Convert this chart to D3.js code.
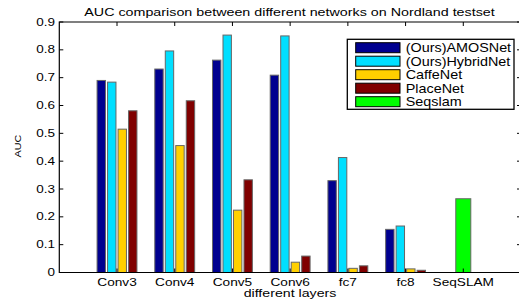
<!DOCTYPE html>
<html><head><meta charset="utf-8">
<script src="https://cdn.jsdelivr.net/npm/d3@7"></script>
<style>body{margin:0;background:#fff;} svg{display:block;} text{font-family:"Liberation Sans",Arial,sans-serif;fill:#000;}</style>
</head><body><svg id="c" width="519" height="303"></svg>
<script>
const categories = ["Conv3","Conv4","Conv5","Conv6","fc7","fc8","SeqSLAM"];
const seriesNames = ["(Ours)AMOSNet","(Ours)HybridNet","CaffeNet","PlaceNet","Seqslam"];
const amosnet   = [0.690,0.731,0.763,0.709,0.330,0.155];
const hybridnet = [0.684,0.796,0.853,0.850,0.413,0.167];
const caffenet  = [0.515,0.456,0.224,0.037,0.015,0.013];
const placenet  = [0.581,0.617,0.333,0.059,0.024,0.008];
const seqslam   = [0.265];
const yTicks = [0,0.1,0.2,0.3,0.4,0.5,0.6,0.7,0.8,0.9];
const colors = ["#00008f","#00dfff","#ffd000","#800000","#00ff00"];

const svg = d3.select("#c");
const L=59.3, R=521, T=22, B=272.5;
const x = d3.scaleLinear().domain([0,8]).range([L,R]);
const y = d3.scaleLinear().domain([0,0.9]).range([B,T]);

function stext(px, py, str, size, sx, anchor, rot){
  const g = svg.append("g").attr("transform",`translate(${px},${py})${rot?` rotate(${rot})`:""} scale(${sx},1)`);
  g.append("text").attr("font-size",size).attr("text-anchor",anchor||"start").text(str);
  return g;
}

const groups = [amosnet,hybridnet,caffenet,placenet];
const gw = 4/5.5; const step = gw/4; const bw = step*0.8;
groups.forEach((s,si)=>{
  svg.append("g").selectAll("rect").data(s).join("rect")
    .attr("x",(d,i)=>x(i+1+(si-1.5)*step-bw/2))
    .attr("width",x(bw)-x(0))
    .attr("y",d=>y(d)).attr("height",d=>y(0)-y(d))
    .attr("fill",colors[si]).attr("stroke","#666").attr("stroke-width",1);
});
const sw = 0.26;
svg.append("g").selectAll("rect").data(seqslam).join("rect")
  .attr("x",x(7-sw/2)).attr("width",x(sw)-x(0))
  .attr("y",d=>y(d)).attr("height",d=>y(0)-y(d))
  .attr("fill",colors[4]).attr("stroke","#666").attr("stroke-width",1);

// axes box
const ax = svg.append("g").attr("stroke","#000").attr("fill","none");
ax.append("path").attr("d",`M${L},${T}H${R}V${B}H${L}Z`).attr("stroke-width",1.2);
yTicks.forEach(t=>{
  ax.append("line").attr("x1",L).attr("x2",L+4).attr("y1",y(t)).attr("y2",y(t));
  ax.append("line").attr("x1",R).attr("x2",R-4).attr("y1",y(t)).attr("y2",y(t));
});
categories.forEach((c,i)=>{
  ax.append("line").attr("x1",x(i+1)).attr("x2",x(i+1)).attr("y1",T).attr("y2",T+4);
  ax.append("line").attr("x1",x(i+1)).attr("x2",x(i+1)).attr("y1",B).attr("y2",B-4);
});
const fmt = d=>d===0?"0":d3.format(".1f")(d);
yTicks.forEach(t=>stext(55, y(t)+3.6, fmt(t), 10, 1.35, "end"));
categories.forEach((c,i)=>stext(x(i+1), B+13, c, 10.5, 1.3, "middle"));

stext(289.5, 15.5, "AUC comparison between different networks on Nordland testset", 11, 1.3, "middle");
stext(290, 297, "different layers", 10.5, 1.35, "middle");
stext(21, 146, "AUC", 9, 1.2, "middle", -90);

// legend
const lg = svg.append("g");
lg.append("rect").attr("x",347.3).attr("y",39.3).attr("width",166.7).attr("height",70).attr("fill","#fff").attr("stroke","#000").attr("stroke-width",1.3);
seriesNames.forEach((n,i)=>{
  const cy = 47.7+i*13.5;
  lg.append("rect").attr("x",355.7).attr("y",cy-5).attr("width",44.3).attr("height",10).attr("fill",colors[i]).attr("stroke","#000").attr("stroke-width",1);
});
seriesNames.forEach((n,i)=>stext(405.7, 47.7+i*13.5+4.5, n, 12.5, 1.15, "start"));
</script></body></html>
